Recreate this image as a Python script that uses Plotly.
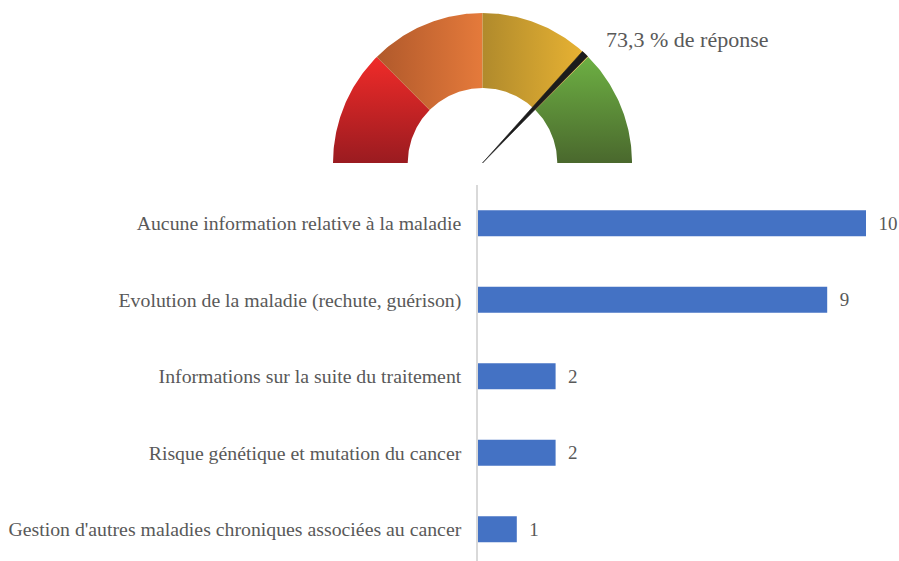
import numpy as np
import plotly.graph_objects as go

# bar chart data
categories = [
    "Aucune information relative à la maladie",
    "Evolution de la maladie (rechute, guérison)",
    "Informations sur la suite du traitement",
    "Risque génétique et mutation du cancer",
    "Gestion d'autres maladies chroniques associées au cancer",
]
values = [10, 9, 2, 2, 1]

# gauge data (percent)
gauge_bounds = [0, 25, 50, 75, 100]
gauge_grad = [
    ("vertical", ["#9a1b20", "#f02b29"]),
    ("horizontal", ["#b0592b", "#e57a3b"]),
    ("horizontal", ["#b08a2c", "#eab433"]),
    ("vertical", ["#4a682d", "#6db043"]),
]
response_rate = 73.3
needle_span = 1.5  # width of the pointer slice, in percent
response_label = "73,3 % de réponse"

GRAY = "#595959"
FONT = "Liberation Serif, Times New Roman, serif"
W, H = 899, 561

fig = go.Figure()

fig.add_trace(go.Bar(
    y=categories, x=values, orientation="h",
    marker=dict(color="#4472C4", line=dict(width=0)),
    width=0.34,
    texttemplate="\u00a0\u00a0%{x}", textposition="outside",
    textfont=dict(family=FONT, size=19, color=GRAY),
    cliponaxis=False, showlegend=False, hoverinfo="skip",
))


def pct_to_rad(p):
    return np.pi * (1 - p / 100.0)


# gauge segments as filled arcs
r_in, r_out = 0.5, 1.0
for i in range(len(gauge_bounds) - 1):
    t = np.linspace(pct_to_rad(gauge_bounds[i]), pct_to_rad(gauge_bounds[i + 1]), 60)
    xs = np.concatenate([r_out * np.cos(t), r_in * np.cos(t[::-1])])
    ys = np.concatenate([r_out * np.sin(t), r_in * np.sin(t[::-1])])
    orient, cols = gauge_grad[i]
    fig.add_trace(go.Scatter(
        x=xs, y=ys, xaxis="x2", yaxis="y2", mode="lines", fill="toself",
        line=dict(width=0, color=cols[1]),
        fillgradient=dict(type=orient, colorscale=[[0, cols[0]], [1, cols[1]]]),
        showlegend=False, hoverinfo="skip",
    ))

# needle: thin slice from the centre
t = np.linspace(pct_to_rad(response_rate), pct_to_rad(response_rate + needle_span), 8)
nx = np.concatenate([[0], r_out * np.cos(t), [0]])
ny = np.concatenate([[0], r_out * np.sin(t), [0]])
fig.add_trace(go.Scatter(
    x=nx, y=ny, xaxis="x2", yaxis="y2", mode="lines", fill="toself",
    fillcolor="#1c1c1c", line=dict(width=0.6, color="#1c1c1c"),
    showlegend=False, hoverinfo="skip",
))

fig.add_annotation(
    x=604 / W, y=1 - 40 / H, xref="paper", yref="paper",
    xanchor="left", yanchor="middle", showarrow=False,
    text=response_label, font=dict(family=FONT, size=22, color=GRAY),
)

x0 = 478
px_per_unit = 38.8
row = 76.5
top = 185

fig.update_layout(
    width=W, height=H,
    margin=dict(l=0, r=0, t=0, b=0),
    paper_bgcolor="white", plot_bgcolor="white",
    xaxis=dict(
        domain=[x0 / W, 1], range=[0, (W - x0) / px_per_unit],
        visible=False, fixedrange=True,
    ),
    yaxis=dict(
        domain=[0, 1 - top / H], range=[(H - top) / row - 0.5, -0.5],
        showline=True, linecolor="#d9d9d9", linewidth=1.5,
        ticks="", ticklabelstandoff=11, showgrid=False, zeroline=False,
        tickfont=dict(family=FONT, size=19.8, color=GRAY),
    ),
    xaxis2=dict(
        domain=[333 / W, 632 / W], range=[-1, 1], anchor="y2",
        visible=False, fixedrange=True,
    ),
    yaxis2=dict(
        domain=[1 - 163 / H, 1 - 13 / H], range=[0, 1], anchor="x2",
        visible=False, fixedrange=True,
    ),
)

# page body has a default 8px margin; drop it so the figure sits at the origin
fig.write_html(
    "out.html",
    config={"displayModeBar": False},
    post_script="document.body.style.margin='0';",
)
